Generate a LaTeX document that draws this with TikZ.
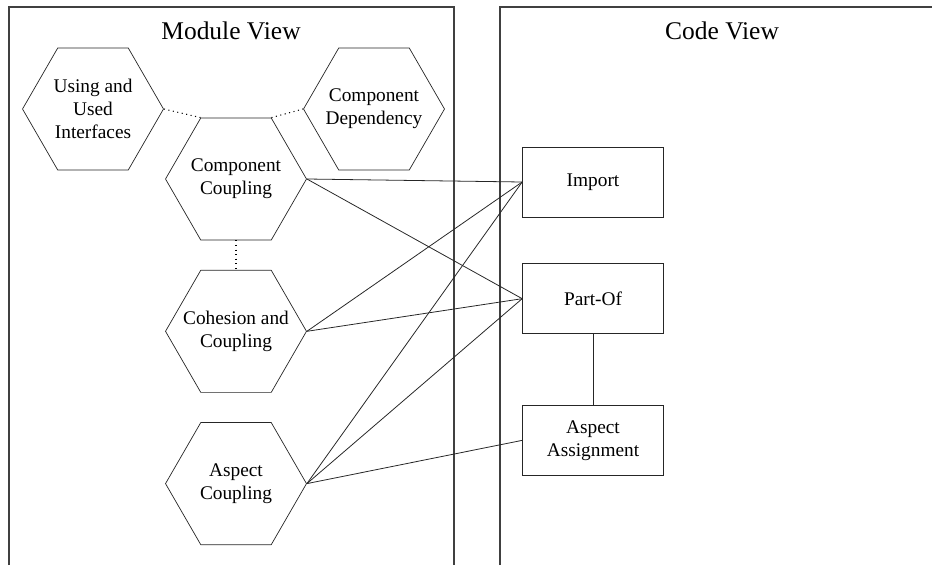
\documentclass[tikz,border=0pt]{standalone}
\usepackage{fontspec}
\setmainfont{Liberation Serif}
\usetikzlibrary{shapes.geometric,positioning}

\begin{document}
\begin{tikzpicture}[
    x=0.02cm, y=-0.02cm,
    node distance=0.59cm and 0.6cm,
    every node/.style={font=\fontsize{11}{13}\selectfont},
    hexa/.style={draw=black!85, regular polygon, regular polygon sides=6, minimum size=2.82cm, inner sep=-0.6cm, align=center},
    block/.style={draw=black!85, rectangle, minimum width=2.82cm, minimum height=1.4cm, align=center},
    viewtitle/.style={font=\fontsize{14.5}{16}\selectfont},
    panel/.style={draw=black!75, line width=0.6pt},
    link/.style={black!85, line width=0.45pt},
    assoc/.style={dotted, line width=0.6pt}
  ]
    \useasboundingbox (0,0) rectangle (932,565);

    % the two views
    \draw[panel] (9,565) -- (9,7) -- (454,7) -- (454,565);
    \draw[panel] (500,565) -- (500,7) -- (932,7);
    \node[viewtitle] (modview) at (231,31) {Module View};
    \node[viewtitle] (codeview) at (722,31) {Code View};

    % module view
    \node[hexa] (cc) at (236,179) {Component\\Coupling};
    \node[hexa] (uui) at (93,109) {Using and\\Used\\Interfaces};
    \node[hexa] (dep) at (374,109) {Component\\Dependency};
    \node[hexa, below=of cc] (coh) {Cohesion and\\Coupling};
    \node[hexa, below=of coh] (asp) {Aspect\\Coupling};

    % code view
    \node[block] (import) at (593,182) {Import};
    \node[block, below=0.92cm of import] (partof) {Part-Of};
    \node[block, below=1.42cm of partof] (assign) {Aspect\\Assignment};

    \draw[assoc] (uui.east) -- (cc.120);
    \draw[assoc] (cc.60) -- (dep.west);
    \draw[assoc] (cc.south) -- (coh.north);

    \draw[link] (cc.east) -- (import.west);
    \draw[link] (cc.east) -- (partof.west);
    \draw[link] (coh.east) -- (import.west);
    \draw[link] (coh.east) -- (partof.west);
    \draw[link] (asp.east) -- (import.west);
    \draw[link] (asp.east) -- (partof.west);
    \draw[link] (asp.east) -- (assign.west);
    \draw[link] (partof.south) -- (assign.north);
  \end{tikzpicture}
\end{document}
